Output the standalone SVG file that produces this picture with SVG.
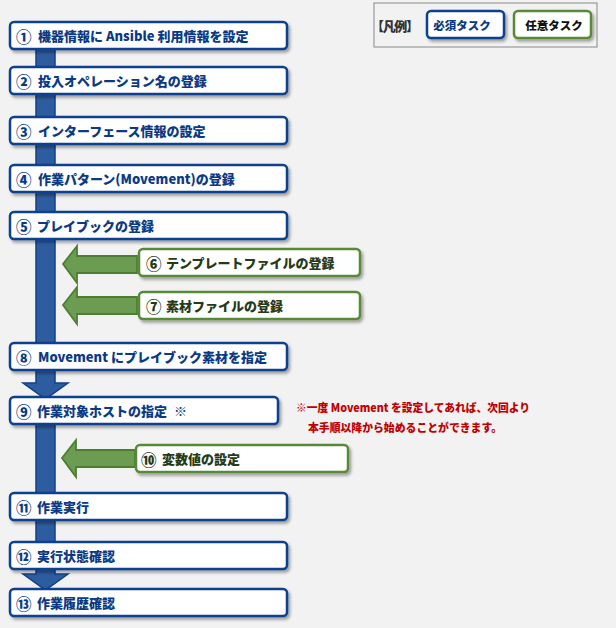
<svg xmlns="http://www.w3.org/2000/svg" width="616" height="628" viewBox="0 0 616 628">
<defs>
<filter id="sh" x="-10%" y="-30%" width="120%" height="170%">
<feDropShadow dx="2" dy="2.5" stdDeviation="1.5" flood-color="#000" flood-opacity="0.35"/>
</filter>
<style>
text{font-family:"Noto Sans CJK JP","Liberation Sans",sans-serif;font-weight:900;}
.bn{fill:#fff;stroke:#0c3f8e;stroke-width:2.5;}
.gn{fill:#fff;stroke:#578a37;stroke-width:2.5;}
.bt{fill:#0b3a85;font-size:13px;dominant-baseline:central;}
.gt{fill:#263a17;font-size:13px;dominant-baseline:central;}
.num{font-size:15.5px;}
.bar{fill:#2e5d9f;stroke:#123f8a;stroke-width:1.5;}
.ga{fill:#6c9b52;stroke:#4d7e30;stroke-width:1.8;}
.rt{fill:#c00000;font-size:11px;}
</style>
</defs>
<rect x="0" y="0" width="616" height="628" fill="#f2f2f2"/>
<g id="legend">
<rect x="374" y="3" width="223" height="44" fill="#f2f2f2" stroke="#999" stroke-width="1.2"/>
<text x="371" y="25" font-size="13" fill="#333" dominant-baseline="central" textLength="48" lengthAdjust="spacing">【凡例】</text>
<rect class="bn" x="427" y="11" width="77" height="27" rx="4" filter="url(#sh)"/>
<text x="462" y="24.5" font-size="11.5" fill="#0b3a85" text-anchor="middle" dominant-baseline="central">必須タスク</text>
<rect class="gn" x="514" y="11" width="77" height="27" rx="4" filter="url(#sh)"/>
<text x="554" y="24.5" font-size="11.5" fill="#111" text-anchor="middle" dominant-baseline="central">任意タスク</text>
</g>
<g id="connectors">
<polygon class="bar" points="36,46 55,46 55,383 68,383 45.5,399 23,383 36,383"/>
<polygon class="bar" points="36,422 55,422 55,574 68,574 45.5,590 23,574 36,574"/>
<polygon class="ga" points="63,264 77,246 77,256 137,256 137,273 77,273 77,283"/>
<polygon class="ga" points="63,305 77,287 77,297 137,297 137,314 77,314 77,324"/>
<polygon class="ga" points="62,458 76,440 76,450 135,450 135,467 76,467 76,477"/>
</g>
<g id="n1"><rect class="bn" x="10" y="22" width="277" height="27" rx="4" filter="url(#sh)"/><text class="bt num" x="16" y="35.5">①</text><text class="bt" x="38" y="35.5">機器情報に Ansible 利用情報を設定</text></g>
<g id="n2"><rect class="bn" x="10" y="67" width="277" height="27" rx="4" filter="url(#sh)"/><text class="bt num" x="16" y="80.5">②</text><text class="bt" x="38" y="80.5">投入オペレーション名の登録</text></g>
<g id="n3"><rect class="bn" x="10" y="117" width="277" height="27" rx="4" filter="url(#sh)"/><text class="bt num" x="16" y="130.5">③</text><text class="bt" x="38" y="130.5">インターフェース情報の設定</text></g>
<g id="n4"><rect class="bn" x="10" y="165" width="277" height="27" rx="4" filter="url(#sh)"/><text class="bt num" x="16" y="178.5">④</text><text class="bt" x="38" y="178.5">作業パターン(Movement)の登録</text></g>
<g id="n5"><rect class="bn" x="10" y="212" width="277" height="27" rx="4" filter="url(#sh)"/><text class="bt num" x="16" y="225.5">⑤</text><text class="bt" x="37" y="225.5">プレイブックの登録</text></g>
<g id="n6"><rect class="gn" x="139" y="249" width="221" height="27" rx="4" filter="url(#sh)"/><text class="gt num" x="146" y="262.5">⑥</text><text class="gt" x="166" y="262.5">テンプレートファイルの登録</text></g>
<g id="n7"><rect class="gn" x="139" y="292" width="221" height="27" rx="4" filter="url(#sh)"/><text class="gt num" x="146" y="305.5">⑦</text><text class="gt" x="166" y="305.5">素材ファイルの登録</text></g>
<g id="n8"><rect class="bn" x="10" y="343" width="277" height="27" rx="4" filter="url(#sh)"/><text class="bt num" x="16" y="356.5">⑧</text><text class="bt" x="38" y="356.5">Movement にプレイブック素材を指定</text></g>
<g id="n9"><rect class="bn" x="10" y="397" width="268" height="27" rx="4" filter="url(#sh)"/><text class="bt num" x="16" y="410.5">⑨</text><text class="bt" x="37" y="410.5">作業対象ホストの指定</text><text class="bt" x="174" y="410.5" font-size="15">※</text></g>
<g id="note"><text class="rt" x="296" y="412" textLength="234" lengthAdjust="spacingAndGlyphs">※一度 Movement を設定してあれば、次回より</text><text class="rt" x="308" y="432" textLength="194" lengthAdjust="spacingAndGlyphs">本手順以降から始めることができます。</text></g>
<g id="n10"><rect class="gn" x="136" y="445" width="212" height="27" rx="4" filter="url(#sh)"/><text class="gt num" x="141" y="458.5">⑩</text><text class="gt" x="162" y="458.5">変数値の設定</text></g>
<g id="n11"><rect class="bn" x="10" y="493" width="277" height="27" rx="4" filter="url(#sh)"/><text class="bt num" x="16" y="506.5">⑪</text><text class="bt" x="37" y="506.5">作業実行</text></g>
<g id="n12"><rect class="bn" x="10" y="542" width="277" height="27" rx="4" filter="url(#sh)"/><text class="bt num" x="16" y="555.5">⑫</text><text class="bt" x="37" y="555.5">実行状態確認</text></g>
<g id="n13"><rect class="bn" x="10" y="589" width="277" height="27" rx="4" filter="url(#sh)"/><text class="bt num" x="16" y="602.5">⑬</text><text class="bt" x="37" y="602.5">作業履歴確認</text></g>
</svg>
